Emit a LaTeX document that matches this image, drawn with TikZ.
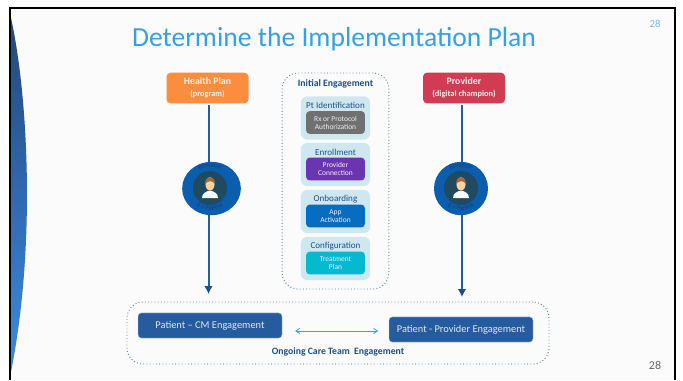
\documentclass[tikz,border=0pt]{standalone}
\usepackage{fontspec}
\setmainfont{Carlito}
\usetikzlibrary{arrows.meta,positioning,decorations.text,shapes.geometric}
\definecolor{slidebg}{HTML}{FBFBFB}
\definecolor{titleblue}{HTML}{36A0E6}
\definecolor{navy}{HTML}{1F4E86}
\definecolor{barblue}{HTML}{265C9E}
\definecolor{ringblue}{HTML}{0B5DAE}
\definecolor{ringtext}{HTML}{123F75}
\definecolor{hubdark}{HTML}{1F4A60}
\definecolor{paleblue}{HTML}{CFE8EF}
\definecolor{planorange}{HTML}{FB8E3E}
\definecolor{providerred}{HTML}{D23C52}
\definecolor{stagegray}{HTML}{707070}
\definecolor{stagepurple}{HTML}{6B35B2}
\definecolor{stageblue}{HTML}{086CC0}
\definecolor{stageteal}{HTML}{05B9CF}
\definecolor{swooshtop}{HTML}{24477F}
\definecolor{swooshbottom}{HTML}{3A8CE0}
\tikzset{
	headbox/.style={rounded corners=3pt,minimum width=61.5pt,minimum height=23pt,inner sep=0pt,align=center,text=white!90!gray},
	stepbox/.style={fill=paleblue,rounded corners=5pt,minimum width=52pt,minimum height=32.5pt,inner sep=0pt},
	stagebox/.style={rounded corners=2.5pt,minimum width=44pt,minimum height=17pt,inner sep=0pt,align=center,text=white!88!gray,font=\fontsize{5.6}{6}\selectfont},
	steplabel/.style={text=navy,inner sep=0pt,font=\fontsize{6.8}{8}\selectfont},
	carebox/.style={fill=barblue,draw=white!70!barblue,line width=0.3pt,rounded corners=2.5pt,minimum width=108pt,minimum height=19pt,inner sep=0pt,text=white!85!barblue,font=\fontsize{7.8}{9}\selectfont},
	dotbox/.style={draw=navy!70!white,line width=0.7pt,dash pattern=on 0.7pt off 1.7pt,rounded corners=12pt,inner sep=0pt},
	lead/.style={draw=barblue,line width=1.5pt},
	flow/.style={lead,-{Latex[length=6pt,width=6.5pt,color=navy]}},
	grouplabel/.style={text=navy,inner sep=0pt,font=\fontsize{7.3}{9}\selectfont\bfseries},
	ring/.style={fill=ringblue,ellipse,inner sep=0pt},
	hub/.style={fill=hubdark,circle,minimum size=25.5pt,inner sep=0pt},
	ringword/.style={decorate,decoration={text along path,text align=center,text={|\fontsize{4.8}{5}\selectfont\color{ringtext}|#1}}}
}
% little person inside a hub, with the words on its ring
\newcommand{\personicon}[3]{
	\begin{scope}[shift={(#1)}]
		\fill[white!80!paleblue] (-8,10) .. controls (-8,5) and (-4,4) .. (-2,3) -- (2,3) .. controls (4,4) and (8,5) .. (8,10) -- cycle;
		\fill[orange!35!white] (0,-4) ellipse (3.4pt and 5pt);
		\fill[brown!85!black] (-4.6,-4) .. controls (-5.5,-13) and (5.5,-13) .. (4.6,-4) .. controls (3,-7.5) and (-2,-8) .. cycle;
		\path[ringword={#2}] (-19,-11) .. controls (-9,-24) and (9,-24) .. (19,-11);
		\path[ringword={#3}] (-21,11) .. controls (-11,26) and (11,26) .. (21,11);
	\end{scope}
}
\begin{document}
\begin{tikzpicture}[x=0.75pt,y=-0.75pt]
	\useasboundingbox (0,0) rectangle (683,380);
	\fill[white] (0,0) rectangle (683,380);
	\fill[slidebg] (9,8) rectangle (675,380);
	% left swoosh
	\shade[top color=swooshtop,bottom color=swooshbottom] (11,18) .. controls (27,90) and (37,240) .. (11,372) -- cycle;
	\draw[black,line width=2pt] (10,380) -- (10,8) -- (675,8) -- (675,380);
	\node[text=titleblue,font=\fontsize{20.7}{24}\selectfont] (title) at (334,39) {Determine the Implementation Plan};
	\node[text=titleblue!70!white,font=\fontsize{8}{10}\selectfont] (pagetop) at (655,24) {28};
	\node[text=black!60,font=\fontsize{9}{11}\selectfont] (pagebottom) at (655,365) {28};
	% left and right leads
	\node[headbox,fill=planorange] (plan) at (207.5,88) {\fontsize{7.4}{8}\selectfont\bfseries Health Plan\\[-3pt]\fontsize{6.2}{7}\selectfont\bfseries (program)};
	\node[headbox,fill=providerred] (provider) at (464,88) {\fontsize{7.4}{8}\selectfont\bfseries Provider\\[-3pt]\fontsize{6.3}{7}\selectfont\bfseries (digital champion)};
	\node[ring,minimum width=44pt,minimum height=40pt] (ringplan) at (211.5,188.5) {};
	\node[hub] (hubplan) at (210,188) {};
	\node[ring,minimum width=40.5pt,minimum height=40pt] (ringprovider) at (461,188.5) {};
	\node[hub] (hubprovider) at (461,188) {};
	\personicon{hubplan}{BlueStar}{E + Patient}
	\personicon{hubprovider}{BlueStar}{E + Patient}
	\coordinate (planhead) at (208.5,105);
	\coordinate (planfoot) at (208.5,294);
	\coordinate (providerhead) at (462,105);
	\coordinate (providerfoot) at (462,297);
	\draw[lead] (planhead) -- (planhead |- ringplan.north);
	\draw[flow] (planfoot |- ringplan.south) -- (planfoot);
	\draw[lead] (providerhead) -- (providerhead |- ringprovider.north);
	\draw[flow] (providerfoot |- ringprovider.south) -- (providerfoot);
	% initial engagement column
	\node[dotbox,minimum width=80pt,minimum height=162pt] (initial) at (335.5,181) {};
	\node[grouplabel] (initiallabel) at (335.5,84) {Initial Engagement};
	\foreach \name/\y/\label/\col/\txt in {
		id/118/Pt Identification/stagegray/{Rx or Protocol\\Authorization},
		enroll/164.5/Enrollment/stagepurple/{Provider\\Connection},
		onboard/211.5/Onboarding/stageblue/{App\\Activation},
		config/258.5/Configuration/stageteal/{Treatment\\Plan}}{
		\node[stepbox] (\name) at (335.5,\y) {};
		\node[steplabel] (\name label) at (335.5,\y-12.5) {\label};
		\node[stagebox,fill=\col] (\name stage) at (335.5,\y+4.5) {\txt};
	}
	% ongoing care team
	\node[dotbox,minimum width=316.5pt,minimum height=46.5pt] (ongoing) at (338,333) {};
	\node[carebox] (cmcare) at (210,325.5) {Patient -- CM Engagement};
	\node[carebox] (providercare) at (461,329.5) {Patient - Provider Engagement};
	\node[grouplabel] (ongoinglabel) at (338,352) {Ongoing Care Team~~Engagement};
	\draw[cyan!85!blue!85!white,line width=0.6pt,{Straight Barb[length=3pt,width=4pt]}-{Straight Barb[length=3pt,width=4pt]}] (cmcare.east) ++(13,5.5) -- ++(83,0);
\end{tikzpicture}
\end{document}
